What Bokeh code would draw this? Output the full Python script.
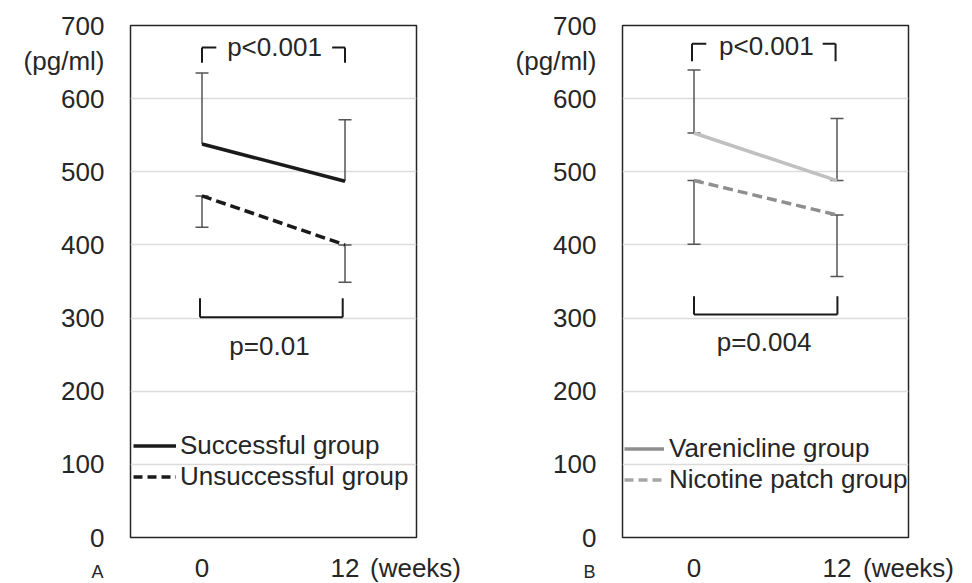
from bokeh.plotting import figure
from bokeh.models import (Range1d, FixedTicker, Label, Legend, LegendItem, Title,
                          Whisker, TeeHead, ColumnDataSource)
from bokeh.layouts import row
from bokeh.embed import file_html
from bokeh.resources import INLINE

# ---------------- data ----------------
weeks = ["0", "12"]
x_unit = "(weeks)"
y_unit = "(pg/ml)"
yticks = [0, 100, 200, 300, 400, 500, 600, 700]

succ_mean = [538, 487]
succ_upper = [635, 571]
unsucc_mean = [467, 400]
unsucc_lower = [424, 349]

var_mean = [553, 488]
var_upper = [639, 573]
nic_mean = [488, 441]
nic_lower = [401, 357]

p_top = ["p<0.001", "p<0.001"]
p_bottom = ["p=0.01", "p=0.004"]
# bracket levels (pg/ml): top bracket [upper, lower], bottom bracket [lower, upper]
top_bracket_A = [670, 649]
bottom_bracket_A = [301, 327]
top_bracket_B = [675, 651]
bottom_bracket_B = [305, 330]

FONT = "Liberation Sans"
TXT = "#262626"
FS = "26px"
NAN = float("nan")


def make_panel(letter, s1, s2, top_br, bot_br, ptop, pbot, wk_tick, ptop_xy, pbot_xy,
               frame_right):
    p = figure(frame_width=286, frame_height=512, output_backend="svg",
               toolbar_location=None, x_range=Range1d(-0.5, 1.5), y_range=Range1d(0, 700),
               min_border_left=130, min_border_top=25, min_border_bottom=46,
               min_border_right=frame_right, background_fill_color="white",
               border_fill_color="white")
    p.outline_line_color = "#262626"
    p.outline_line_width = 1.5
    p.xgrid.visible = False
    p.ygrid.ticker = FixedTicker(ticks=yticks)
    p.ygrid.grid_line_color = "#dcdcdc"
    p.ygrid.grid_line_width = 1.5

    for ax in (p.xaxis[0], p.yaxis[0]):
        ax.axis_line_color = None
        ax.major_tick_line_color = None
        ax.minor_tick_line_color = None
        ax.major_tick_out = 0
        ax.major_tick_in = 0
        ax.minor_tick_out = 0
        ax.major_label_text_font = FONT
        ax.major_label_text_font_size = FS
        ax.major_label_text_color = TXT
    # unit label rides on the y axis as an extra tick (no grid line there)
    p.yaxis.ticker = FixedTicker(ticks=yticks + [652])
    p.yaxis.major_label_overrides = {652: y_unit}
    p.yaxis.major_label_standoff = 26
    p.xaxis.ticker = FixedTicker(ticks=[0, 1, wk_tick])
    p.xaxis.major_label_overrides = {0: weeks[0], 1: weeks[1], wk_tick: x_unit}
    p.xaxis.major_label_standoff = 15

    # panel letter as a title below the axis, pulled up with a negative standoff
    p.add_layout(Title(text=letter, align="left", offset=-39, standoff=-48,
                       vertical_align="top",
                       text_font=FONT, text_font_size="18px", text_font_style="normal",
                       text_color=TXT), "below")

    xs = [0, 1]
    head = lambda: TeeHead(size=13, line_color="#555555", line_width=1.5)
    src1 = ColumnDataSource(dict(x=xs, lower=s1["mean"], upper=s1["err"]))
    p.add_layout(Whisker(base="x", lower="lower", upper="upper", source=src1,
                         line_color="#555555", line_width=1.5, level="underlay",
                         upper_head=head(), lower_head=(head() if s1["mean_cap"] else None)))
    src2 = ColumnDataSource(dict(x=xs, lower=s2["err"], upper=s2["mean"]))
    p.add_layout(Whisker(base="x", lower="lower", upper="upper", source=src2,
                         line_color="#555555", line_width=1.5, level="underlay",
                         upper_head=head(), lower_head=head()))

    p.line(xs, s1["mean"], line_color=s1["color"], line_width=3.5)
    p.line(xs, s2["mean"], line_color=s2["color"], line_width=3.5, line_dash="10 5")

    # legend (invisible dummy renderers carry the legend line styles)
    r1 = p.line([0], [NAN], line_color=s1["leg_color"], line_width=3.5)
    r2 = p.line([0], [NAN], line_color=s2["leg_color"], line_width=3.5, line_dash="9 5")
    leg = Legend(items=[LegendItem(label=s1["name"], renderers=[r1]),
                        LegendItem(label=s2["name"], renderers=[r2])],
                 location=s1["leg_loc"], padding=0, margin=0, spacing=0,
                 glyph_width=s1["leg_gw"], glyph_height=31, label_height=31,
                 label_standoff=s1["leg_standoff"],
                 label_text_font=FONT, label_text_font_size=FS, label_text_color=TXT,
                 background_fill_alpha=0, border_line_color=None)
    p.add_layout(leg)

    # brackets
    bx0, bx1 = top_br["x"]
    ty = top_br["y"]
    p.segment(x0=[bx0, bx0, bx1 - 0.09, bx1], y0=[ty[1], ty[0], ty[0], ty[0]],
              x1=[bx0, bx0 + 0.1, bx1, bx1], y1=[ty[0], ty[0], ty[0], ty[1]],
              line_color="#1a1a1a", line_width=2)
    cx0, cx1 = bot_br["x"]
    by = bot_br["y"]
    p.segment(x0=[cx0, cx0, cx1], y0=[by[1], by[0], by[0]],
              x1=[cx0, cx1, cx1], y1=[by[0], by[0], by[1]],
              line_color="#1a1a1a", line_width=2)

    p.add_layout(Label(x=ptop_xy[0], y=ptop_xy[1], text=ptop, text_font=FONT, text_font_size=FS,
                       text_color=TXT, text_align="center", text_baseline="middle"))
    p.add_layout(Label(x=pbot_xy[0], y=pbot_xy[1], text=pbot, text_font=FONT, text_font_size=FS,
                       text_color=TXT, text_align="center", text_baseline="middle"))
    return p


pA = make_panel(
    "A",
    dict(mean=succ_mean, err=succ_upper, color="#1a1a1a", leg_color="#1a1a1a",
         name="Successful group", mean_cap=False, leg_loc=(3, 45), leg_standoff=4, leg_gw=43),
    dict(mean=unsucc_mean, err=unsucc_lower, color="#1a1a1a", leg_color="#1a1a1a",
         name="Unsuccessful group"),
    dict(x=[0, 1], y=top_bracket_A), dict(x=[-0.014, 0.984], y=bottom_bracket_A),
    p_top[0], p_bottom[0], 1.493, (0.507, 670), (0.472, 262), 76)

pB = make_panel(
    "B",
    dict(mean=var_mean, err=var_upper, color="#c0c0c0", leg_color="#8f8f8f",
         name="Varenicline group", mean_cap=True, leg_loc=(2, 42), leg_standoff=5, leg_gw=40),
    dict(mean=nic_mean, err=nic_lower, color="#8f8f8f", leg_color="#a6a6a6",
         name="Nicotine patch group"),
    dict(x=[-0.014, 0.99], y=top_bracket_B), dict(x=[0, 1.003], y=bottom_bracket_B),
    p_top[1], p_bottom[1], 1.5, (0.506, 672), (0.49, 267), 63)

layout = row(pA, pB)
open("out.html", "w").write(file_html(layout, INLINE))
